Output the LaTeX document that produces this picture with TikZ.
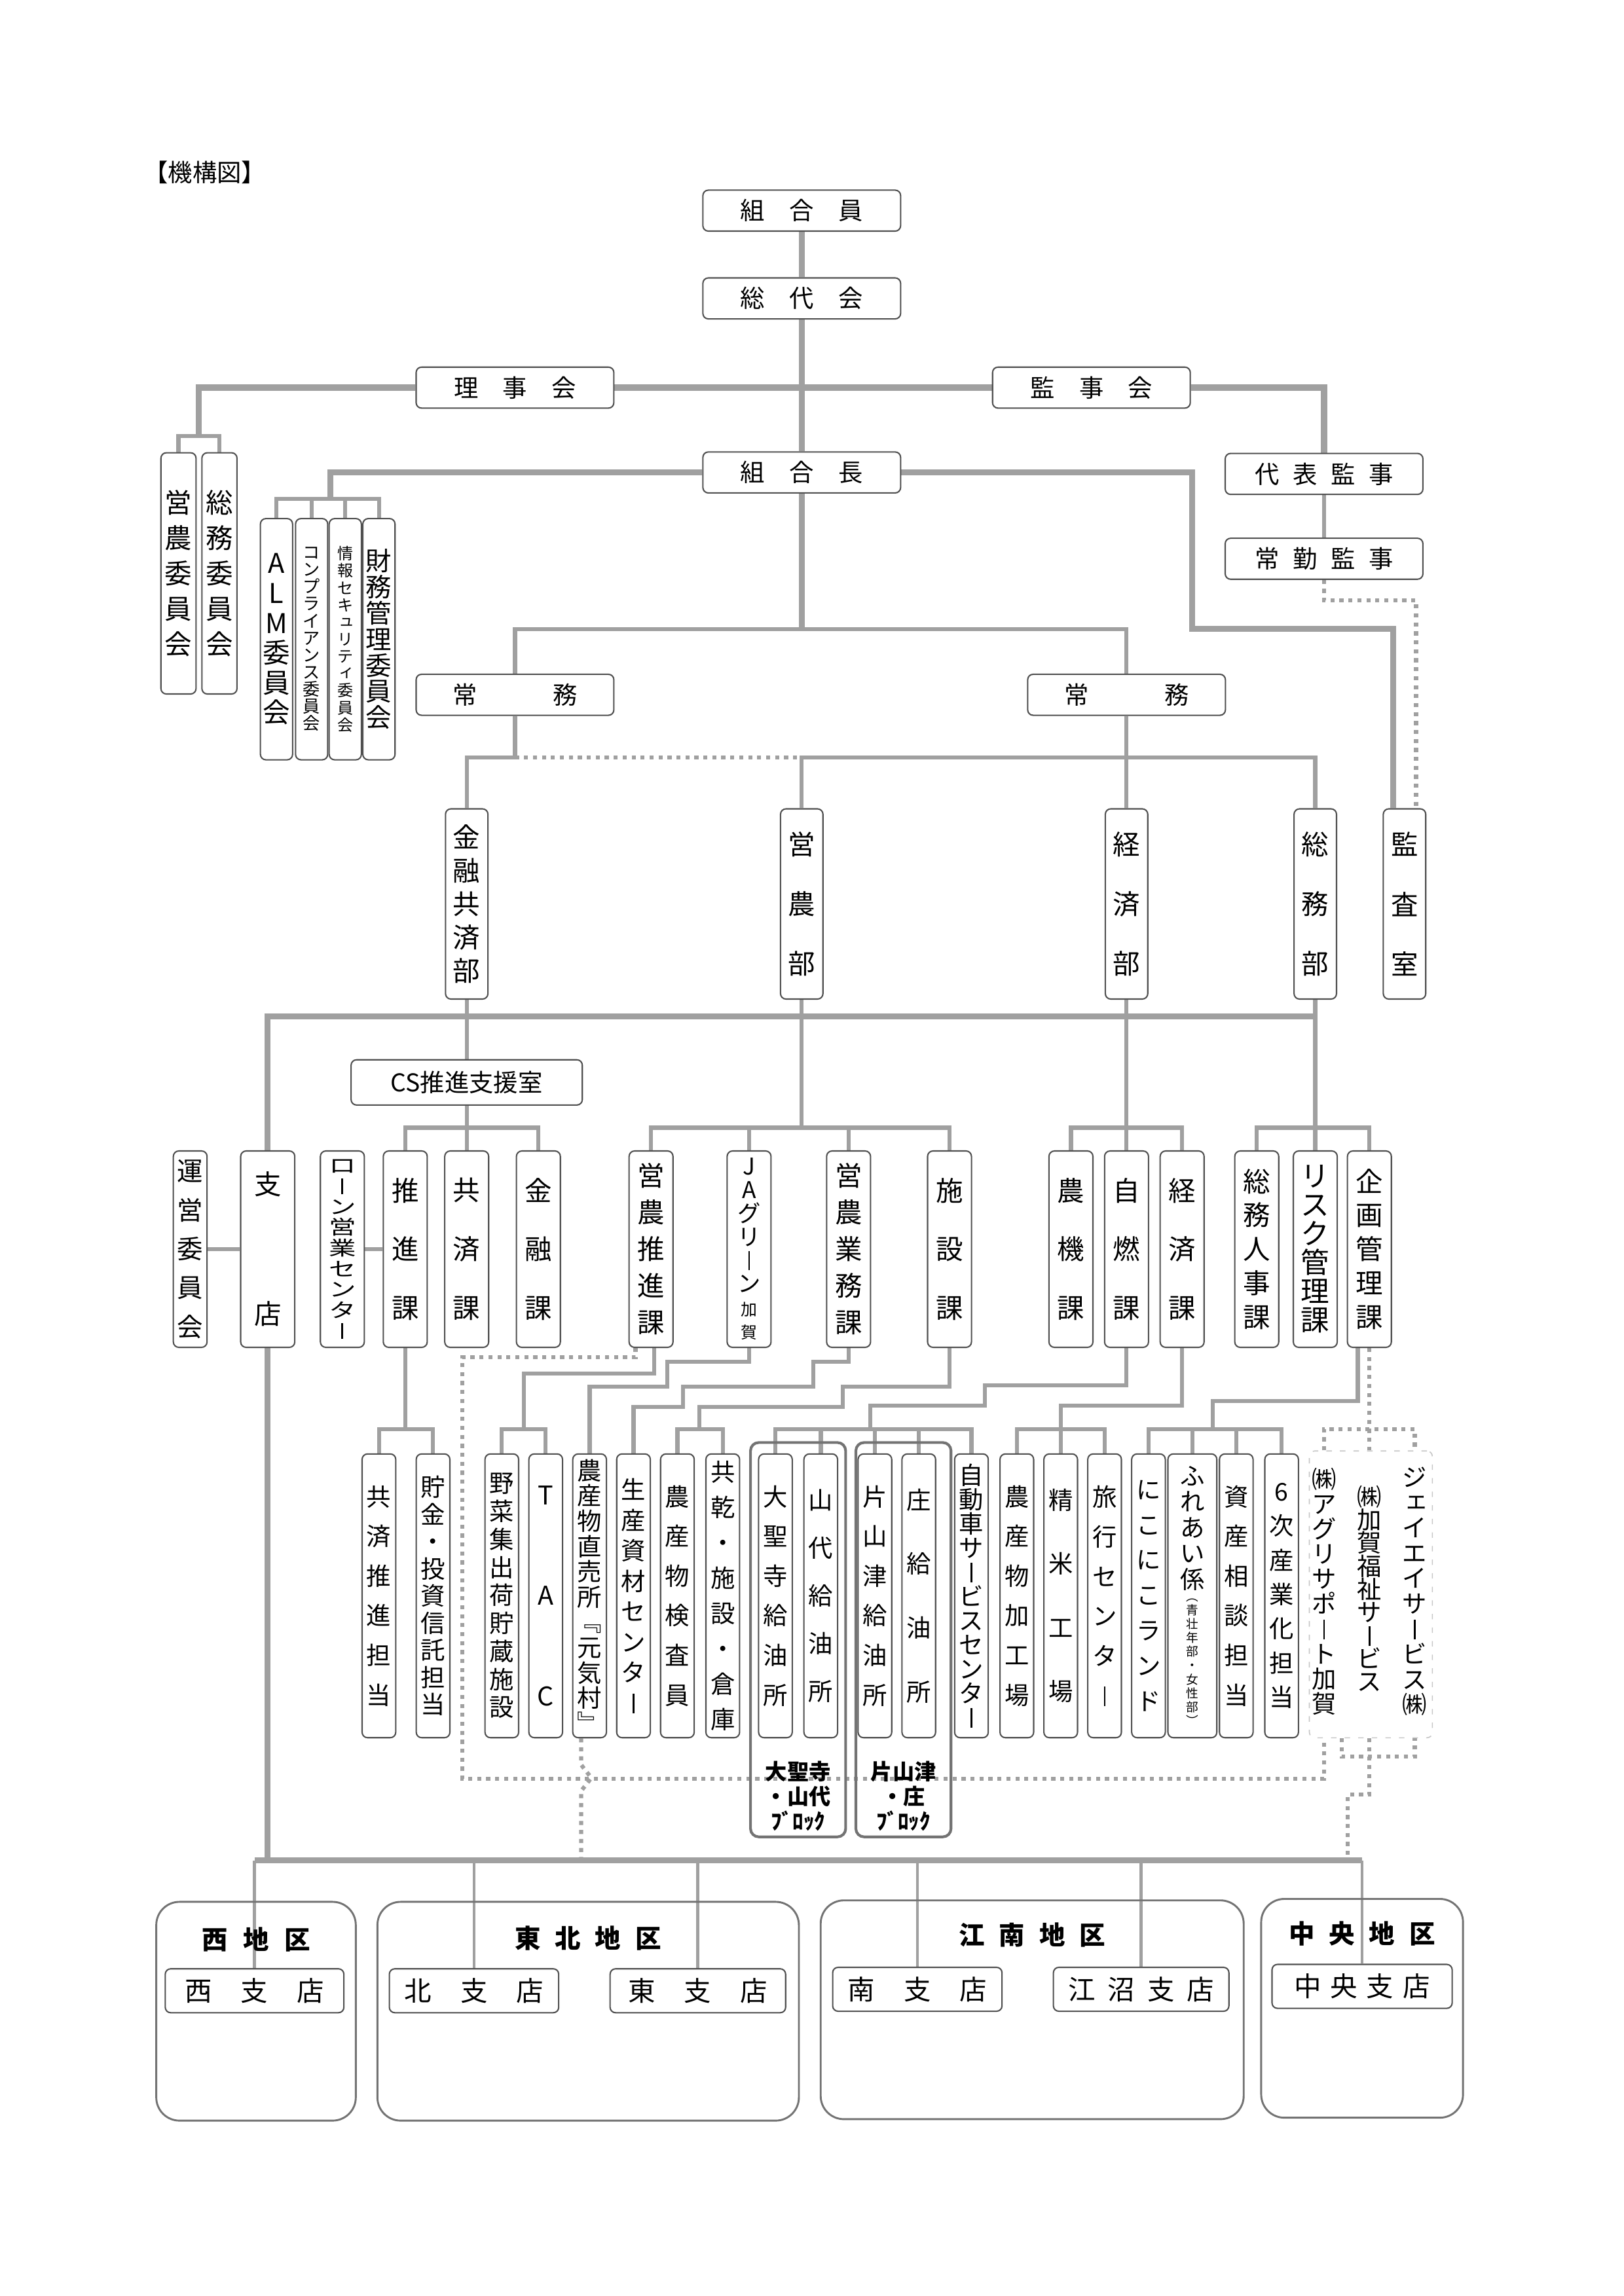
\documentclass[tikz,border=0pt]{standalone}
\usepackage{fontspec}
\setmainfont{Noto Sans CJK JP}
\usepackage{graphicx}
\usetikzlibrary{positioning, backgrounds, calc}
\definecolor{linegray}{RGB}{160,160,160}
\definecolor{boxgray}{RGB}{80,80,80}
\definecolor{framegray}{RGB}{115,115,115}

% font size and vertical (tate) text
\newcommand\fsz[1]{\fontsize{#1pt}{#1pt}\selectfont}
\newcommand\tateend{TATEEND}
\newcommand\tatey{1}
\newcommand\tatebar{\raisebox{-0.05em}{\rule{0.07em}{0.8em}}}
\newcommand\sk[1]{\raisebox{0.12em}{\kern0.15em#1}}
\newcommand\tate[2][1.2em]{\vbox{\baselineskip=#1\lineskiplimit=-\maxdimen\lineskip=0pt\tatei#2\tateend}}
\def\tatei#1{\ifx\tateend#1\else\hbox to 1em{\hss\scalebox{1}[\tatey]{#1}\hss}\expandafter\tatei\fi}
\newcommand\tatestack[2]{\vbox{\offinterlineskip\hbox to 2em{\hss#1\hss}\kern3pt\hbox to 2em{\hss#2\hss}}}

\begin{document}
\begin{tikzpicture}[
    x=0.18919mm, y=-0.18919mm,
    box/.style={draw=boxgray, line width=0.5pt, fill=white, rounded corners=2pt, inner sep=0pt},
    hbox/.style={box, minimum width=25.57mm, minimum height=5.3mm, font=\fsz{9}},
    cbox/.style={box, minimum width=4.54mm, minimum height=31.2mm, font=\fsz{10}},
    nbox/.style={box, minimum width=4.16mm, minimum height=31.2mm},
    dbox/.style={box, minimum width=5.49mm, minimum height=24.6mm, font=\fsz{10}},
    sbox/.style={box, minimum width=5.68mm, minimum height=25.4mm, font=\fsz{10}},
    ubox/.style={box, minimum width=4.35mm, minimum height=36.7mm, font=\fsz{9}},
    bbox/.style={box, minimum height=5.68mm, font=\fsz{10}},
    block/.style={draw=framegray, line width=1pt, rounded corners=3pt, minimum width=12.3mm, minimum height=51mm, inner sep=0pt},
    area/.style={draw=framegray, line width=0.7pt, rounded corners=3mm, minimum height=28.3mm, inner sep=0pt},
    arealabel/.style={font=\fsz{9.5}\bfseries},
    conn/.style={draw=linegray, line width=1.5pt},
    trunk/.style={draw=linegray, line width=2.2pt},
    drop/.style={draw=linegray, line width=1.1pt},
    dotline/.style={draw=linegray, line width=1.5pt, dash pattern=on 1.5pt off 1.8pt}
]
    \useasboundingbox (0,0) rectangle (1110,1569.7);
    \node[font=\fsz{9}] (title) at (140,118) {【機構図】};

    % top
    \node[hbox] (kumiaiin) at (548,144) {組　合　員};
    \node[hbox] (sodaikai) at (548,204) {総　代　会};
    \node[hbox] (rijikai) at (352,265) {理　事　会};
    \node[hbox] (kanjikai) at (746,265) {監　事　会};
    \node[hbox] (kumiaicho) at (548,323) {組　合　長};
    \node[hbox] (daihyo) at (905,324) {代\hspace{0.55em}表\hspace{0.55em}監\hspace{0.55em}事};
    \node[hbox] (jokin) at (905,382) {常\hspace{0.55em}勤\hspace{0.55em}監\hspace{0.55em}事};
    \node[hbox] (jomuL) at (352,475) {常\hspace{3.1em}務};
    \node[hbox] (jomuR) at (770,475) {常\hspace{3.1em}務};

    % committees
    \node[cbox] (einoiin) at (122,392) {\tate[13pt]{営 農 委 員 会}};
    \node[cbox] (somuiin) at (150,392) {\tate[13pt]{総 務 委 員 会}};
    \node[nbox, font=\fsz{10}] (alm) at (189,437) {\tate[11pt]{A L M 委 員 会}};
    \node[nbox, font=\fsz{6.3}] (compl) at (213,437) {\tate[6.3pt]{コ ン プ ラ イ ア ン ス 委 員 会}};
    \node[nbox, font=\fsz{5.8}] (joho) at (236,437) {\tate[6.3pt]{情 報 セ キ {\sk{ュ}} リ テ {\sk{ィ}} 委 員 会}};
    \node[nbox, font=\fsz{9.5}] (zaimu) at (259,437) {\tate[9.6pt]{財 務 管 理 委 員 会}};

    % departments
    \node[dbox] (kinyu) at (319,618) {\tate[12.3pt]{金 融 共 済 部}};
    \node[dbox] (eino) at (548,618) {\tate[22pt]{営 農 部}};
    \node[dbox] (keizai) at (770,618) {\tate[22pt]{経 済 部}};
    \node[dbox] (somu) at (899,618) {\tate[22pt]{総 務 部}};
    \node[dbox] (kansa) at (960,618) {\tate[22pt]{監 査 室}};
    \node[box, minimum width=29.9mm, minimum height=5.85mm, font=\fsz{9}] (cs) at (319,740) {CS推進支援室};

    % sections
    \node[sbox, minimum width=4.36mm, font=\fsz{9.5}] (unei) at (130,854) {\tate[14.3pt]{運 営 委 員 会}};
    \node[sbox, minimum width=7mm] (shiten) at (183,854) {\tate[47.6pt]{支 店}};
    \node[sbox] (loan) at (234,854) {\def\tatey{0.72}\tate[7.6pt]{ロ {\tatebar} ン 営 業 セ ン タ {\tatebar}}};
    \node[sbox] (suishin) at (277,854) {\tate[21.6pt]{推 進 課}};
    \node[sbox] (kyosai) at (319,854) {\tate[21.6pt]{共 済 課}};
    \node[sbox] (kinyuka) at (368,854) {\tate[21.6pt]{金 融 課}};
    \node[sbox] (einosui) at (445,854) {\tate[13.5pt]{営 農 推 進 課}};
    \node[sbox, font=\fsz{8.5}] (jag) at (512,854) {\tate[8.6pt]{J A グ リ {\tatebar} ン {\fsz{6}加} {\fsz{6}賀}}};
    \node[sbox] (gyomu) at (580,854) {\tate[13.5pt]{営 農 業 務 課}};
    \node[sbox] (shisetsu) at (649,854) {\tate[21.6pt]{施 設 課}};
    \node[sbox] (noki) at (732,854) {\tate[21.6pt]{農 機 課}};
    \node[sbox] (jinen) at (770,854) {\tate[21.6pt]{自 燃 課}};
    \node[sbox] (keizaika) at (808,854) {\tate[21.6pt]{経 済 課}};
    \node[sbox] (jinji) at (859,854) {\tate[12.5pt]{総 務 人 事 課}};
    \node[sbox, font=\fsz{10.5}] (risk) at (899,854) {\tate[10.6pt]{リ ス ク 管 理 課}};
    \node[sbox] (kikaku) at (936,854) {\tate[12.5pt]{企 画 管 理 課}};

    % units
    \node[ubox] (kyosait) at (259,1091) {\tate[14.6pt]{共 済 推 進 担 当}};
    \node[ubox] (chokint) at (296,1091) {\tate[10pt]{貯 金 ・ 投 資 信 託 担 当}};
    \node[ubox] (yasai) at (343,1091) {\tate[10.3pt]{野 菜 集 出 荷 貯 蔵 施 設}};
    \node[ubox, font=\fsz{9.5}] (tac) at (373,1091) {\tate[37pt]{T A C}};
    \node[ubox] (chokubai) at (403,1091) {\tate[9.3pt]{農 産 物 直 売 所 ﹃ 元 気 村 ﹄}};
    \node[ubox] (seisan) at (433,1091) {\tate[11.2pt]{生 産 資 材 セ ン タ {\tatebar}}};
    \node[ubox] (kensain) at (463,1091) {\tate[14.6pt]{農 産 物 検 査 員}};
    \node[ubox] (kyokan) at (494,1091) {\tate[13pt]{共 乾 ・ 施 設 ・ 倉 庫}};
    \node[ubox] (daishoji) at (530,1091) {\tate[14.6pt]{大 聖 寺 給 油 所}};
    \node[ubox] (yamashiro) at (561,1091) {\tate[17.6pt]{山 代 給 油 所}};
    \node[ubox] (katayamazu) at (598,1091) {\tate[14.6pt]{片 山 津 給 油 所}};
    \node[ubox] (sho) at (628,1091) {\tate[23.5pt]{庄 給 油 所}};
    \node[ubox] (jidosha) at (664,1091) {\tate[8.9pt]{自 動 車 サ {\tatebar} ビ ス セ ン タ {\tatebar}}};
    \node[ubox] (kakojo) at (695,1091) {\tate[14.6pt]{農 産 物 加 工 場}};
    \node[ubox] (seimai) at (725,1091) {\tate[23.5pt]{精 米 工 場}};
    \node[ubox] (ryoko) at (755,1091) {\tate[14.6pt]{旅 行 セ ン タ {\tatebar}}};
    \node[ubox] (niko) at (785,1091) {\tate[13pt]{に こ に こ ラ ン ド}};
    \node[ubox] (fureai) at (815,1091) {\tatestack{\tate[9.5pt]{ふ れ あ い 係}}{\fsz{4.5}\tate[5.1pt]{︵ 青 壮 年 部 ・ 女 性 部 ︶}}};
    \node[ubox] (shisan) at (845,1091) {\tate[14.6pt]{資 産 相 談 担 当}};
    \node[ubox] (rokuji) at (876,1091) {\tate[12.6pt]{6 次 産 業 化 担 当}};

    % blocks
    \node[block] (blockA) at (545.5,1121) {};
    \node[block] (blockB) at (617.5,1121) {};
    \node[align=center, font={\fontsize{8pt}{9.2pt}\selectfont\bfseries}] (blockAlab) at (545.5,1228) {大聖寺\\・山代\\ﾌﾞﾛｯｸ};
    \node[align=center, font={\fontsize{8pt}{9.2pt}\selectfont\bfseries}] (blockBlab) at (617.5,1228) {片山津\\・庄\\ﾌﾞﾛｯｸ};

    % companies
    \node[draw=black!22, line width=0.4pt, dash pattern=on 2pt off 3pt, rounded corners=2pt, minimum width=15.9mm, minimum height=37.1mm] (kaisha) at (937,1090) {};
    \node[font=\fsz{9}, inner sep=0pt] (agri) at (905,1088) {\tate[9.2pt]{㈱ ア グ リ サ ポ {\tatebar} ト 加 賀}};
    \node[font=\fsz{9}, inner sep=0pt] (fukushi) at (936,1086) {\tate[8.5pt]{㈱ 加 賀 福 祉 サ {\tatebar} ビ ス}};
    \node[font=\fsz{9}, inner sep=0pt] (jas) at (967,1088) {\tate[9.3pt]{ジ {\sk{ェ}} イ エ イ サ {\tatebar} ビ ス ㈱}};

    % areas
    \node[area, minimum width=25.8mm] (nishi) at (175,1375) {};
    \node[area, minimum width=54.5mm] (tohoku) at (402,1375) {};
    \node[area, minimum width=54.7mm] (konan) at (705.5,1374) {};
    \node[area, minimum width=26.1mm] (chuo) at (931,1373) {};
    \node[arealabel] (nishilab) at (175,1326) {西\hspace{0.6em}地\hspace{0.6em}区};
    \node[arealabel] (tohokulab) at (402,1325) {東\hspace{0.55em}北\hspace{0.55em}地\hspace{0.55em}区};
    \node[arealabel] (konanlab) at (705.5,1323) {江\hspace{0.55em}南\hspace{0.55em}地\hspace{0.55em}区};
    \node[arealabel] (chuolab) at (931,1322) {中\hspace{0.55em}央\hspace{0.55em}地\hspace{0.55em}区};
    \node[bbox, minimum width=23.1mm] (nishishi) at (174,1361) {西\hspace{1.06em}支\hspace{1.06em}店};
    \node[bbox, minimum width=21.9mm] (kitashi) at (324,1361) {北\hspace{1.06em}支\hspace{1.06em}店};
    \node[bbox, minimum width=22.7mm] (higashishi) at (477,1361) {東\hspace{1.06em}支\hspace{1.06em}店};
    \node[bbox, minimum width=21.9mm] (minamishi) at (627,1360) {南\hspace{1.06em}支\hspace{1.06em}店};
    \node[bbox, minimum width=22.7mm] (enumashi) at (780,1360) {江\hspace{0.46em}沼\hspace{0.46em}支\hspace{0.46em}店};
    \node[bbox, minimum width=23.3mm] (chuoshi) at (931,1358) {中\hspace{0.33em}央\hspace{0.33em}支\hspace{0.33em}店};

    % junctions
    \coordinate (iinbr) at (136,298);
    \coordinate (cmtbr) at (226,341);
    \coordinate (kumbend) at (815,430);
    \coordinate (jmbr) at (548,430);
    \coordinate (jlbr) at (352,518);
    \coordinate (jrbr) at (770,518);
    \coordinate (bus) at (0,695);
    \coordinate (br3) at (0,771);
    \coordinate (br4) at (0,977);
    \coordinate (busB) at (0,1272);
    \coordinate (kbus) at (921,1272);
    \coordinate (kansadot) at ([xshift=1.5mm]kansa.north);
    \coordinate (kansasol) at ([xshift=-1.5mm]kansa.north);
    \coordinate (hop) at ([xshift=-1.1mm]chokubai.south);

    \begin{scope}[on background layer]
    \fill[white] (0,0) rectangle (1110,1569.7);
    % top
    \draw[trunk] (kumiaiin) -- (sodaikai);
    \draw[trunk] (sodaikai) -- (kumiaicho);
    \draw[trunk] (rijikai.east) -- (kanjikai.west);
    \draw[trunk] (rijikai.west) -| (iinbr);
    \draw[conn] (einoiin.north) |- (iinbr) -| (somuiin.north);
    \draw[trunk] (kanjikai.east) -| (daihyo.north);
    \draw[conn] (daihyo) -- (jokin);
    \draw[dotline] (jokin.south) -- ++(0,14) -| (kansadot);
    \draw[trunk] (kumiaicho.west) -| (cmtbr);
    \draw[conn] (alm.north) |- (cmtbr) -| (zaimu.north);
    \foreach \n in {compl,joho}
        \draw[conn] (\n.north) -- (\n.north |- cmtbr);
    \draw[trunk] (kumiaicho.east) -| (kumbend) -| (kansasol);
    \draw[trunk] (kumiaicho) -- (jmbr);
    \draw[conn] (jomuL.north) |- (jmbr) -| (jomuR.north);
    \draw[conn] (jomuL.south) -- (jlbr) -| (kinyu.north);
    \draw[dotline] (jlbr) -- (eino.north |- jlbr);
    \draw[conn] (jomuR.south) -- (jrbr);
    \draw[conn] (eino.north) |- (jrbr) -| (somu.north);
    \draw[conn] (jrbr) -- (keizai.north);

    % departments to sections
    \draw[trunk] (shiten.north) |- (somu.south |- bus);
    \draw[conn] (kinyu.south) -- (cs.north);
    \foreach \n in {cs,eino,keizai,somu}
        \draw[conn] (\n.south) -- (\n.south |- br3);
    \draw[conn] (suishin.north) |- (kinyuka.north |- br3) -- (kinyuka.north);
    \draw[conn] (einosui.north) |- (shisetsu.north |- br3) -- (shisetsu.north);
    \draw[conn] (noki.north) |- (keizaika.north |- br3) -- (keizaika.north);
    \draw[conn] (jinji.north) |- (kikaku.north |- br3) -- (kikaku.north);
    \foreach \n in {kyosai,jag,gyomu,jinen,risk}
        \draw[conn] (\n.north) -- (\n.north |- br3);
    \draw[conn] (unei.east) -- (shiten.west);
    \draw[conn] (loan.east) -- (suishin.west);

    % sections to units
    \draw[conn] (suishin.south) -- (suishin.south |- br4);
    \draw[conn] (kyosait.north) |- (chokint.north |- br4) -- (chokint.north);
    \draw[conn] ([xshift=0.4mm]einosui.south) |- (358,939) -- (358,977);
    \draw[conn] (yasai.north) |- (tac.north |- br4) -- (tac.north);
    \draw[conn] (jag.south) |- (456,931) |- (chokubai.north |- 0,948) -- (chokubai.north);
    \draw[conn] (gyomu.south) |- (556,931) |- (467,948) |- (seisan.north |- 0,962) -- (seisan.north);
    \draw[conn] (shisetsu.south) |- (576,948) |- (478,962) -- (478,977);
    \draw[conn] (kensain.north) |- (kyokan.north |- br4) -- (kyokan.north);
    \draw[conn] (jinen.south) |- (673,947) |- (595,961) -- (595,977);
    \draw[conn] (daishoji.north) |- (jidosha.north |- br4) -- (jidosha.north);
    \foreach \n in {yamashiro,katayamazu,sho}
        \draw[conn] (\n.north) -- (\n.north |- br4);
    \draw[conn] (keizaika.south) |- (725,961) -- (seimai.north);
    \draw[conn] (kakojo.north) |- (ryoko.north |- br4) -- (ryoko.north);
    \draw[conn] ([xshift=-1.5mm]kikaku.south) |- (829,958) -- (829,977);
    \draw[conn] (niko.north) |- (rokuji.north |- br4) -- (rokuji.north);
    \foreach \n in {fureai,shisan}
        \draw[conn] (\n.north) -- (\n.north |- br4);

    % dotted links
    \draw[dotline] (kikaku.south) -- (fukushi |- kaisha.north);
    \draw[dotline] (agri |- kaisha.north) |- (jas |- br4) -- (jas |- kaisha.north);
    \draw[dotline] ([xshift=-2mm]einosui.south) |- (316,928) |- (agri |- 0,1216) -- (agri |- kaisha.south);
    \draw[dotline] (hop) -- ++(0,18) -- ++(7,9) -- ++(-7,9) -- (hop |- busB);
    \draw[dotline] ($(agri |- kaisha.south)+(12,0)$) |- (jas |- 0,1201) -- (jas |- kaisha.south);
    \draw[dotline] (fukushi |- kaisha.south) |- (921,1227) -- (kbus);

    % branches
    \draw[trunk] (shiten.south) -- (shiten.south |- busB);
    \draw[trunk] (nishishi.north |- busB) -- (chuoshi.north |- busB);
    \foreach \n in {nishishi,kitashi,higashishi,minamishi,enumashi,chuoshi}
        \draw[drop] (\n.north |- busB) -- (\n.north);
    \end{scope}
\end{tikzpicture}
\end{document}
